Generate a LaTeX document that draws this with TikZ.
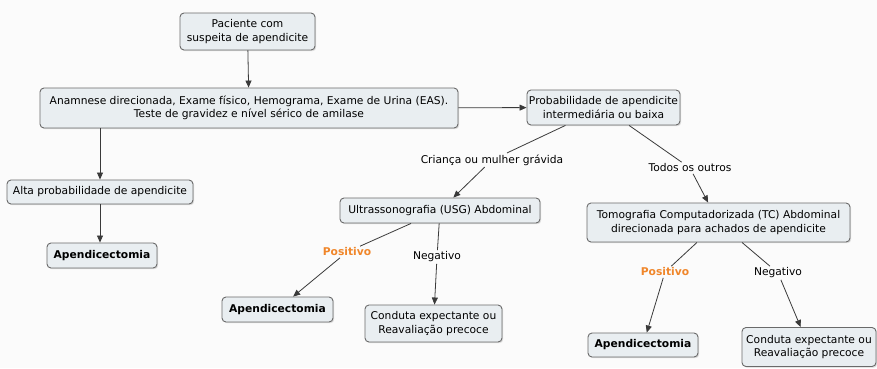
\documentclass[tikz,border=0pt]{standalone}
\usepackage{fontspec}
\setmainfont{DejaVu Sans}
\usetikzlibrary{arrows.meta,shadows}
\definecolor{boxfill}{HTML}{E9EEF1}
\definecolor{boxline}{HTML}{6A6A6A}
\definecolor{linkcol}{HTML}{3A3A3A}
\definecolor{pagebg}{HTML}{FBFBFB}
\definecolor{posorange}{HTML}{F0862A}
\tikzset{
  concept/.style={draw=boxline, line width=0.9pt, fill=boxfill, rounded corners=4pt,
    align=center, inner sep=2pt, font=\fontsize{10.7}{13.5}\selectfont,
    drop shadow={shadow xshift=1.2pt, shadow yshift=-1.2pt, opacity=0.25}},
  boldconcept/.style={concept, font=\fontsize{10.7}{13.5}\selectfont\bfseries},
  linklabel/.style={fill=pagebg, inner sep=1.5pt, font=\fontsize{10.7}{13.5}\selectfont},
  poslabel/.style={linklabel, text=posorange, font=\fontsize{10.7}{13.5}\selectfont\bfseries},
  link/.style={draw=linkcol, line width=0.8pt},
  arrowlink/.style={link, -{Triangle[length=7pt,width=6pt]}}
}
\begin{document}
\begin{tikzpicture}[x=1pt,y=-1pt]
\fill[pagebg] (0,0) rectangle (877,368);
\useasboundingbox (0,0) rectangle (877,368);

% concepts
\node[concept, minimum width=135pt, minimum height=37pt] (pac) at (247.5,31.5)
  {Paciente com\\suspeita de apendicite};
\node[concept, minimum width=418pt, minimum height=40pt] (anam) at (249,108)
  {Anamnese direcionada, Exame físico, Hemograma, Exame de Urina (EAS).\\Teste de gravidez e nível sérico de amilase};
\node[concept, minimum width=153pt, minimum height=35pt] (prob) at (603.5,107.5)
  {Probabilidade de apendicite\\intermediária ou baixa};
\node[concept, minimum width=186pt, minimum height=24pt] (alta) at (100,192)
  {Alta probabilidade de apendicite};
\node[boldconcept, minimum width=110pt, minimum height=25pt] (ap1) at (102,255.5)
  {Apendicectomia};
\node[concept, minimum width=200pt, minimum height=25pt] (usg) at (440,210.5)
  {Ultrassonografia (USG) Abdominal};
\node[concept, minimum width=263pt, minimum height=39pt] (tc) at (718.5,222.5)
  {Tomografia Computadorizada (TC) Abdominal\\direcionada para achados de apendicite};
\node[boldconcept, minimum width=111pt, minimum height=25pt] (ap2) at (277.5,309.5)
  {Apendicectomia};
\node[concept, minimum width=137pt, minimum height=37pt] (cd2) at (433.5,323.5)
  {Conduta expectante ou\\Reavaliação precoce};
\node[boldconcept, minimum width=110pt, minimum height=24pt] (ap3) at (643,345)
  {Apendicectomia};
\node[concept, minimum width=134pt, minimum height=39pt] (cd3) at (809,347)
  {Conduta expectante ou\\Reavaliação precoce};

% link labels
\node[linklabel] (lc) at (492,160) {Criança ou mulher grávida};
\node[linklabel] (lt) at (690,168) {Todos os outros};
\node[poslabel] (lp1) at (347,252) {Positivo};
\node[linklabel] (ln1) at (437,257) {Negativo};
\node[poslabel] (lp2) at (665,272) {Positivo};
\node[linklabel] (ln2) at (778,273) {Negativo};

% connections
\draw[arrowlink] (pac) -- (anam);
\draw[arrowlink] (anam) -- (prob);
\draw[arrowlink] (anam.south -| alta) -- (alta);
\draw[arrowlink] (alta.south) -- (alta.south |- ap1.north);
\draw[link] (prob) -- (lc);
\draw[arrowlink] (lc) -- (usg);
\draw[link] (prob) -- (lt);
\draw[arrowlink] (lt) -- (tc);
\draw[link] (usg) -- (lp1);
\draw[arrowlink] (lp1) -- (ap2);
\draw[link] (usg) -- (ln1);
\draw[arrowlink] (ln1) -- (cd2);
\draw[link] (tc) -- (lp2);
\draw[arrowlink] (lp2) -- (ap3);
\draw[link] (tc) -- (ln2);
\draw[arrowlink] (ln2) -- (cd3);
\end{tikzpicture}
\end{document}
